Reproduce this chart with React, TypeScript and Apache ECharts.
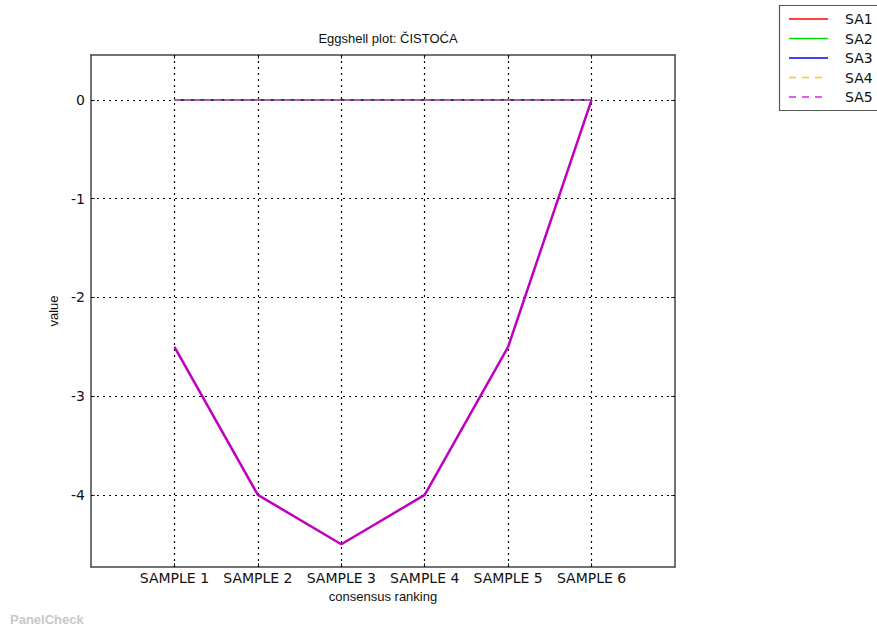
import React, { useEffect, useRef } from "react";
import * as echarts from "echarts";

const sampleNames = ["SAMPLE 1", "SAMPLE 2", "SAMPLE 3", "SAMPLE 4", "SAMPLE 5", "SAMPLE 6"];
const samplePositions = [1, 2, 3, 4, 5, 6];
const assessorNames = ["SA1", "SA2", "SA3", "SA4", "SA5"];
const assessorColors = ["#ff0000", "#00dd00", "#0000ff", "#ffc800", "#dd22ee"];
const assessorDashed = [false, false, false, true, true];
const sa1 = [0, 0, 0, 0, 0, 0];
const sa2 = [0, 0, 0, 0, 0, 0];
const sa3 = [0, 0, 0, 0, 0, 0];
const sa4 = [0, 0, 0, 0, 0, 0];
const sa5 = [0, 0, 0, 0, 0, 0];
const consensus = [-2.5, -4, -4.5, -4, -2.5, 0];
const yTicks = [0, -1, -2, -3, -4];

export default function App() {
  const ref = useRef<HTMLDivElement>(null);
  useEffect(() => {
    if (!ref.current) return;
    const chart = echarts.init(ref.current, null, { renderer: "svg" });
    const assessorData = [sa1, sa2, sa3, sa4, sa5];
    const font = "DejaVu Sans";
    const frame = { show: true, onZero: false, lineStyle: { color: "#444", width: 1.5 } };
    const series: any[] = assessorNames.map((name, i) => ({
      name,
      type: "line",
      data: assessorData[i].map((v, j) => [samplePositions[j], v]),
      symbol: "none",
      lineStyle: {
        color: assessorColors[i],
        width: 1.2,
        type: assessorDashed[i] ? [6, 4] : "solid",
      },
      z: 3 + i,
    }));
    series.push({
      name: "consensus",
      type: "line",
      data: consensus.map((v, j) => [samplePositions[j], v]),
      symbol: "none",
      lineStyle: { color: "#bf00bf", width: 2.5 },
      z: 2,
      markLine: {
        silent: true,
        symbol: "none",
        label: { show: false },
        lineStyle: { color: "#000", type: [2, 4], width: 1.2 },
        data: [
          ...yTicks.map((v) => ({ yAxis: v })),
          ...samplePositions.map((v) => ({ xAxis: v })),
        ],
        z: 1,
      },
    });
    const legendItems: any[] = [
      {
        type: "rect",
        shape: { x: 779.5, y: 5.5, width: 120, height: 105 },
        style: { fill: "#fff", stroke: "#555", lineWidth: 1.2 },
      },
    ];
    assessorNames.forEach((name, i) => {
      const y = 19 + i * 19.5;
      legendItems.push({
        type: "line",
        shape: { x1: 789, y1: y, x2: 828, y2: y },
        style: {
          stroke: assessorColors[i],
          lineWidth: 1.5,
          lineDash: assessorDashed[i] ? [7, 6] : null,
        },
      });
      legendItems.push({
        type: "text",
        x: 845,
        y,
        style: { text: name, font: `14px '${font}'`, fill: "#111", verticalAlign: "middle", align: "left" },
      });
    });
    legendItems.push({
      type: "text",
      x: 10,
      y: 619,
      style: {
        text: "PanelCheck",
        font: "bold 13px 'Liberation Sans'",
        fill: "#c8c8c8",
        verticalAlign: "middle",
      },
    });
    chart.setOption({
      animation: false,
      backgroundColor: "#fff",
      title: {
        text: "Eggshell plot: ČISTOĆA",
        left: 383,
        top: 27,
        textAlign: "center",
        textStyle: { fontFamily: "Liberation Sans", fontSize: 13, fontWeight: "normal", color: "#111" },
      },
      grid: { left: 91, top: 55, width: 584, height: 512, show: false },
      xAxis: [
        {
          type: "value",
          min: 0,
          max: 7,
          interval: 1,
          axisLine: frame,
          splitLine: { show: false },
          axisTick: { show: true, inside: true, length: 4, lineStyle: { color: "#444" }, customValues: samplePositions },
          axisLabel: {
            customValues: samplePositions,
            formatter: (v: number) => sampleNames[samplePositions.indexOf(Math.round(v))] ?? "",
            fontFamily: font,
            fontSize: 14,
            color: "#111",
            margin: 4,
          },
          name: "consensus ranking",
          nameLocation: "middle",
          nameGap: 22,
          nameTextStyle: { fontFamily: "Liberation Sans", fontSize: 13, color: "#111" },
        },
        {
          type: "value",
          position: "top",
          min: 0,
          max: 7,
          interval: 1,
          axisLine: frame,
          splitLine: { show: false },
          axisTick: { show: true, inside: true, length: 4, lineStyle: { color: "#444" }, customValues: samplePositions },
          axisLabel: { show: false },
        },
      ],
      yAxis: [
        {
          type: "value",
          min: -4.73,
          max: 0.455,
          axisLine: frame,
          splitLine: { show: false },
          axisTick: { show: true, inside: true, length: 4, lineStyle: { color: "#444" }, customValues: yTicks },
          axisLabel: {
            customValues: yTicks,
            formatter: (v: number) => String(Math.round(v)),
            fontFamily: font,
            fontSize: 14,
            color: "#111",
            margin: 6,
          },
          name: "value",
          nameLocation: "middle",
          nameGap: 24,
          nameRotate: 90,
          nameTextStyle: { fontFamily: "Liberation Sans", fontSize: 13, color: "#111" },
        },
        {
          type: "value",
          position: "right",
          min: -4.73,
          max: 0.455,
          axisLine: frame,
          splitLine: { show: false },
          axisTick: { show: true, inside: true, length: 4, lineStyle: { color: "#444" }, customValues: yTicks },
          axisLabel: { show: false },
        },
      ],
      series,
      graphic: legendItems,
    });
    return () => chart.dispose();
  }, []);
  return (
    <div
      ref={ref}
      style={{ position: "fixed", left: 0, top: 0, width: 877, height: 629, background: "#fff" }}
    />
  );
}
